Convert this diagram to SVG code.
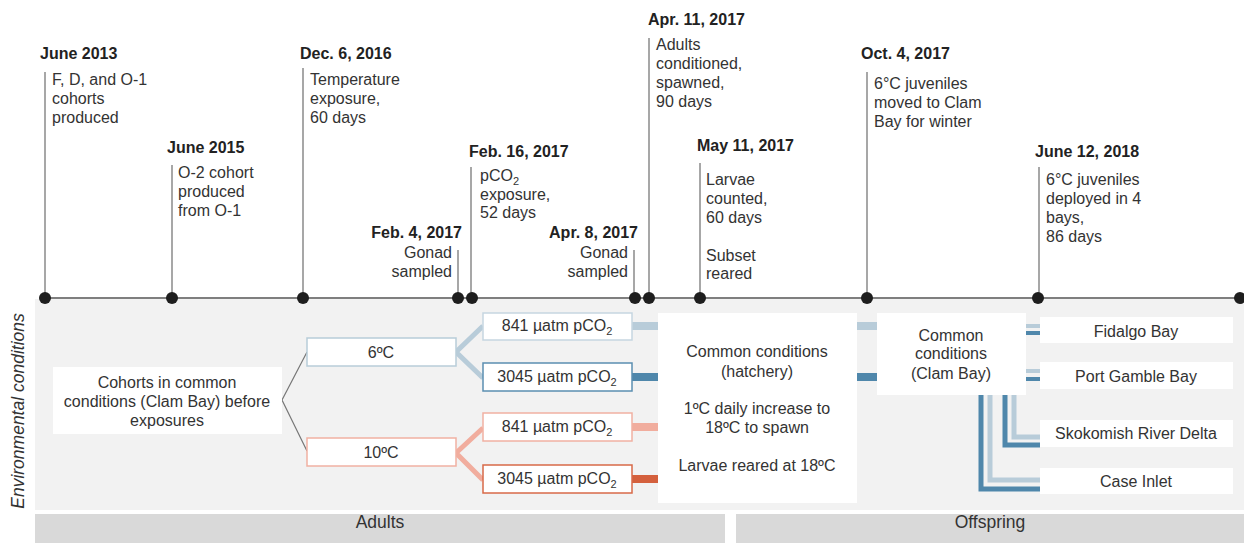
<svg xmlns="http://www.w3.org/2000/svg" width="1244" height="543" viewBox="0 0 1244 543">
<style>
.t{font-family:"Liberation Sans",Arial,sans-serif;font-size:16px;fill:#333}
.h{font-family:"Liberation Sans",Arial,sans-serif;font-size:16px;font-weight:bold;fill:#222}
.c{text-anchor:middle}
.e{text-anchor:end}
.tick{stroke:#8a8a8a;stroke-width:1.5}
.dot{fill:#1e1e1e}
.box{fill:#fff}
.lb{stroke:#b8ccd9}
.db{stroke:#4f87ab}
.ls{stroke:#f1ad9e}
.ds{stroke:#d4603d}
.big{font-family:"Liberation Sans",Arial,sans-serif;font-size:17.5px;fill:#333}
</style>
<rect x="0" y="0" width="1244" height="543" fill="#fff"/>
<rect x="35" y="299" width="1209" height="211" fill="#f2f2f2"/>
<g id="band-adults"><rect x="35" y="514" width="690" height="29" fill="#d9d9d9"/><text class="big c" x="380" y="528">Adults</text></g>
<g id="band-offspring"><rect x="736" y="514" width="508" height="29" fill="#d9d9d9"/><text class="big c" x="990" y="528">Offspring</text></g>
<text class="big c" transform="translate(24,411) rotate(-90)" font-style="italic">Environmental conditions</text>

<g id="timeline">
<line x1="45" y1="298" x2="1240" y2="298" stroke="#555" stroke-width="1.5"/>
<line class="tick" x1="45" y1="72" x2="45" y2="298"/>
<line class="tick" x1="172" y1="165" x2="172" y2="298"/>
<line class="tick" x1="303" y1="68" x2="303" y2="298"/>
<line class="tick" x1="458" y1="250" x2="458" y2="298"/>
<line class="tick" x1="471" y1="167" x2="471" y2="298"/>
<line class="tick" x1="634" y1="250" x2="634" y2="298"/>
<line class="tick" x1="649" y1="38" x2="649" y2="298"/>
<line class="tick" x1="700" y1="163" x2="700" y2="298"/>
<line class="tick" x1="867" y1="72" x2="867" y2="298"/>
<line class="tick" x1="1039" y1="167" x2="1039" y2="298"/>
<circle class="dot" cx="45" cy="298" r="6"/>
<circle class="dot" cx="172" cy="298" r="6"/>
<circle class="dot" cx="303" cy="298" r="6"/>
<circle class="dot" cx="458" cy="298" r="6"/>
<circle class="dot" cx="472" cy="298" r="6"/>
<circle class="dot" cx="635" cy="298" r="6"/>
<circle class="dot" cx="649" cy="298" r="6"/>
<circle class="dot" cx="700" cy="298" r="6"/>
<circle class="dot" cx="867" cy="298" r="6"/>
<circle class="dot" cx="1038" cy="298" r="6"/>
<circle class="dot" cx="1240" cy="298" r="6"/>
</g>

<g id="ev-2013">
<text class="h" x="40" y="59">June 2013</text>
<text class="t" x="52" y="85">F, D, and O-1</text>
<text class="t" x="52" y="104">cohorts</text>
<text class="t" x="52" y="123">produced</text>
</g>
<g id="ev-2015">
<text class="h" x="167" y="153">June 2015</text>
<text class="t" x="178" y="178">O-2 cohort</text>
<text class="t" x="178" y="197">produced</text>
<text class="t" x="178" y="216">from O-1</text>
</g>
<g id="ev-dec6">
<text class="h" x="300" y="59">Dec. 6, 2016</text>
<text class="t" x="310" y="85">Temperature</text>
<text class="t" x="310" y="104">exposure,</text>
<text class="t" x="310" y="123">60 days</text>
</g>
<g id="ev-feb4">
<text class="h e" x="462" y="238">Feb. 4, 2017</text>
<text class="t e" x="452" y="258">Gonad</text>
<text class="t e" x="452" y="277">sampled</text>
</g>
<g id="ev-feb16">
<text class="h" x="469" y="157">Feb. 16, 2017</text>
<text class="t" x="480" y="181">pCO<tspan font-size="11" dy="4">2</tspan></text>
<text class="t" x="480" y="199.5">exposure,</text>
<text class="t" x="480" y="218">52 days</text>
</g>
<g id="ev-apr8">
<text class="h e" x="638" y="238">Apr. 8, 2017</text>
<text class="t e" x="628" y="258">Gonad</text>
<text class="t e" x="628" y="277">sampled</text>
</g>
<g id="ev-apr11">
<text class="h" x="648" y="25">Apr. 11, 2017</text>
<text class="t" x="656" y="50">Adults</text>
<text class="t" x="656" y="69">conditioned,</text>
<text class="t" x="656" y="88">spawned,</text>
<text class="t" x="656" y="107">90 days</text>
</g>
<g id="ev-may11">
<text class="h" x="697" y="151">May 11, 2017</text>
<text class="t" x="706" y="185">Larvae</text>
<text class="t" x="706" y="204">counted,</text>
<text class="t" x="706" y="223">60 days</text>
<text class="t" x="706" y="261">Subset</text>
<text class="t" x="706" y="279">reared</text>
</g>
<g id="ev-oct4">
<text class="h" x="861" y="59">Oct. 4, 2017</text>
<text class="t" x="874" y="89">6°C juveniles</text>
<text class="t" x="874" y="108">moved to Clam</text>
<text class="t" x="874" y="127">Bay for winter</text>
</g>
<g id="ev-jun12">
<text class="h" x="1035" y="157">June 12, 2018</text>
<text class="t" x="1046" y="185">6°C juveniles</text>
<text class="t" x="1046" y="204">deployed in 4</text>
<text class="t" x="1046" y="223">bays,</text>
<text class="t" x="1046" y="242">86 days</text>
</g>

<g id="connectors" fill="none">
<polyline points="307,352 282,400 307,451" stroke="#777" stroke-width="1.2"/>
<polyline class="lb" points="483,326 456,352 483,378" stroke-width="5"/>
<polyline class="ls" points="483,428 456,453 483,480" stroke-width="5"/>
<line class="lb" x1="632" y1="326" x2="658" y2="326" stroke-width="8"/>
<line class="db" x1="632" y1="377" x2="658" y2="377" stroke-width="8"/>
<line class="ls" x1="632" y1="427" x2="658" y2="427" stroke-width="8"/>
<line class="ds" x1="632" y1="479" x2="658" y2="479" stroke-width="8"/>
<line class="lb" x1="857" y1="326" x2="877" y2="326" stroke-width="8"/>
<line class="db" x1="857" y1="377" x2="877" y2="377" stroke-width="8"/>
<line class="lb" x1="1026" y1="326" x2="1040" y2="326" stroke-width="4"/>
<line class="db" x1="1026" y1="333" x2="1040" y2="333" stroke-width="4"/>
<line class="lb" x1="1026" y1="371" x2="1040" y2="371" stroke-width="4"/>
<line class="db" x1="1026" y1="379" x2="1040" y2="379" stroke-width="4"/>
<polyline class="db" points="981,394 981,489 1040,489" stroke-width="5"/>
<polyline class="lb" points="990,394 990,480 1040,480" stroke-width="5"/>
<polyline class="db" points="1005,394 1005,445 1040,445" stroke-width="5"/>
<polyline class="lb" points="1014,394 1014,437 1040,437" stroke-width="5"/>
</g>

<g id="n-cohorts">
<rect class="box" x="53" y="367" width="229" height="67"/>
<text class="t c" x="167" y="388">Cohorts in common</text>
<text class="t c" x="167" y="407">conditions (Clam Bay) before</text>
<text class="t c" x="167" y="426">exposures</text>
</g>
<g id="n-6C">
<rect class="box" x="307" y="338" width="149" height="28" stroke="#b8cdd9" stroke-width="1.5"/>
<text class="t c" x="381" y="358">6ºC</text>
</g>
<g id="n-10C">
<rect class="box" x="307" y="438" width="149" height="28" stroke="#f1b1a3" stroke-width="1.5"/>
<text class="t c" x="381" y="458">10ºC</text>
</g>
<g id="n-6-841">
<rect class="box" x="483" y="313" width="149" height="27" stroke="#c6d6e1" stroke-width="1.5"/>
<text class="t c" x="557" y="331">841 µatm pCO<tspan font-size="11" dy="4">2</tspan></text>
</g>
<g id="n-6-3045">
<rect class="box" x="483" y="363" width="149" height="28" stroke="#5b8fb1" stroke-width="1.5"/>
<text class="t c" x="557" y="382">3045 µatm pCO<tspan font-size="11" dy="4">2</tspan></text>
</g>
<g id="n-10-841">
<rect class="box" x="483" y="413" width="149" height="28" stroke="#f1b1a3" stroke-width="1.5"/>
<text class="t c" x="557" y="432">841 µatm pCO<tspan font-size="11" dy="4">2</tspan></text>
</g>
<g id="n-10-3045">
<rect class="box" x="483" y="465" width="149" height="28" stroke="#d86a48" stroke-width="1.5"/>
<text class="t c" x="557" y="484">3045 µatm pCO<tspan font-size="11" dy="4">2</tspan></text>
</g>
<g id="n-hatchery">
<rect class="box" x="658" y="313" width="199" height="190"/>
<text class="t c" x="757" y="357">Common conditions</text>
<text class="t c" x="757" y="377">(hatchery)</text>
<text class="t c" x="757" y="414">1ºC daily increase to</text>
<text class="t c" x="757" y="433">18ºC to spawn</text>
<text class="t c" x="757" y="471">Larvae reared at 18ºC</text>
</g>
<g id="n-clambay">
<rect class="box" x="877" y="313" width="149" height="82"/>
<text class="t c" x="951" y="341">Common</text>
<text class="t c" x="951" y="359">conditions</text>
<text class="t c" x="951" y="379">(Clam Bay)</text>
</g>
<g id="n-fidalgo">
<rect class="box" x="1040" y="317" width="193" height="26"/>
<text class="t c" x="1136" y="337">Fidalgo Bay</text>
</g>
<g id="n-portgamble">
<rect class="box" x="1040" y="362" width="193" height="27"/>
<text class="t c" x="1136" y="382">Port Gamble Bay</text>
</g>
<g id="n-skokomish">
<rect class="box" x="1040" y="420" width="193" height="27"/>
<text class="t c" x="1136" y="439">Skokomish River Delta</text>
</g>
<g id="n-caseinlet">
<rect class="box" x="1040" y="468" width="193" height="26"/>
<text class="t c" x="1136" y="487">Case Inlet</text>
</g>
</svg>
